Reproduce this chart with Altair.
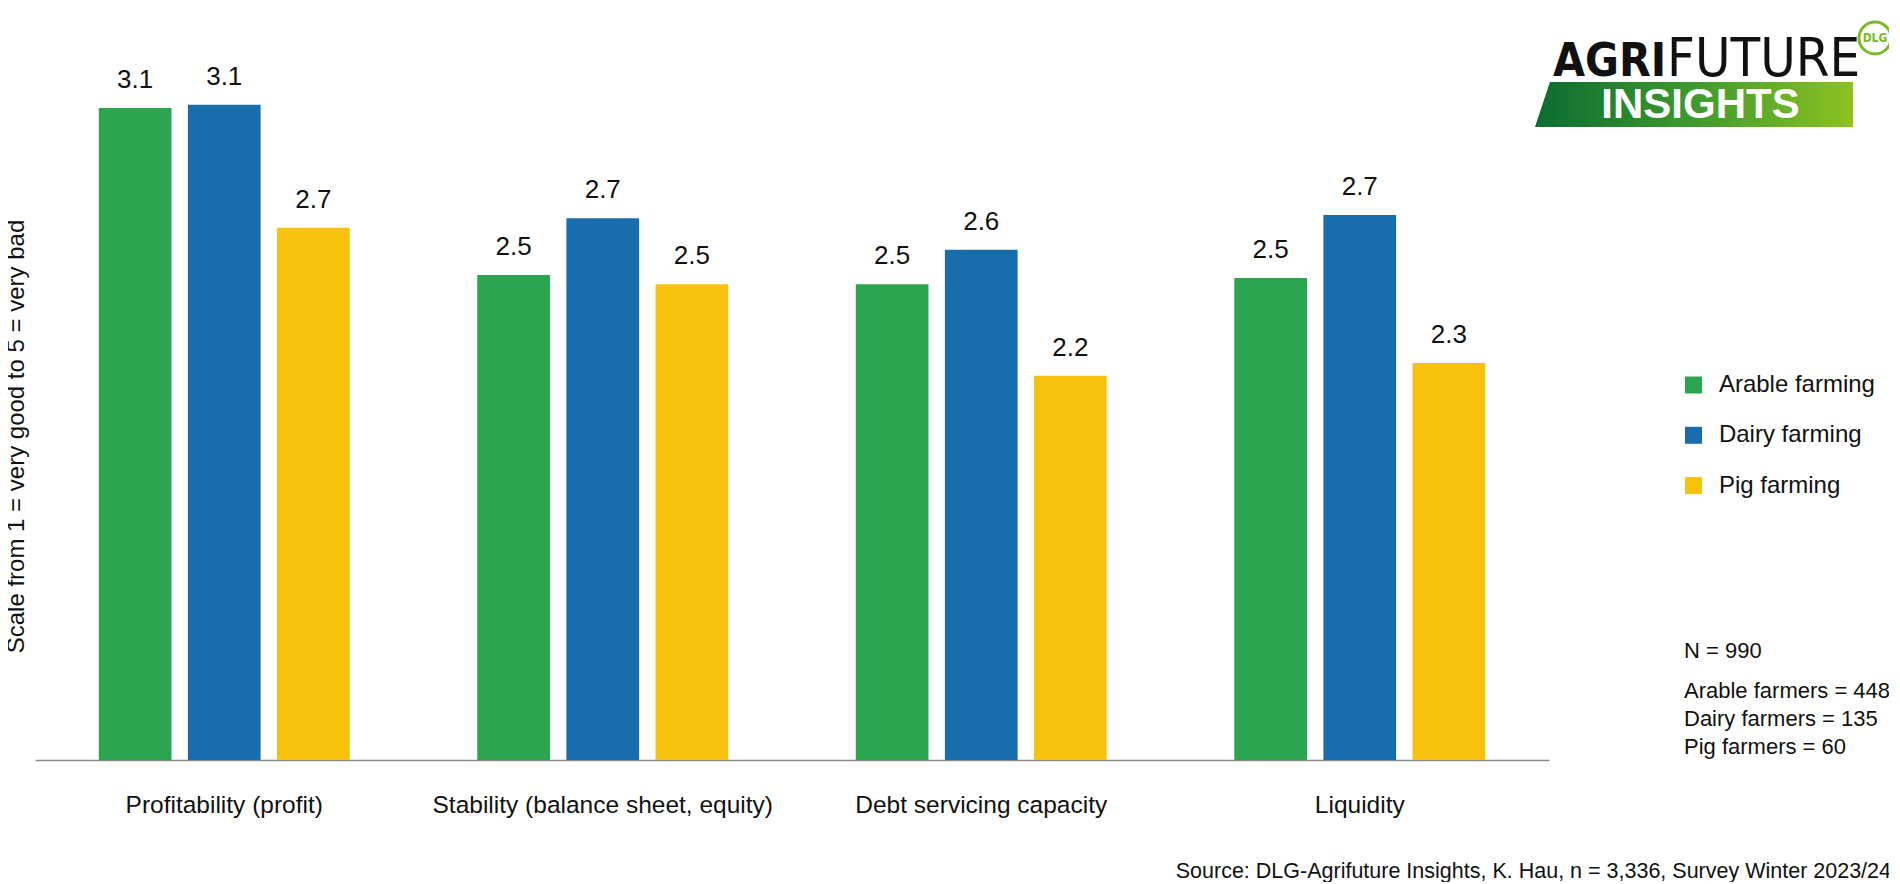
import altair as alt
import pandas as pd

# ---- data ----
categories = ["Profitability (profit)", "Stability (balance sheet, equity)",
              "Debt servicing capacity", "Liquidity"]
series = ["Arable farming", "Dairy farming", "Pig farming"]
arable = [3.07, 2.54, 2.51, 2.53]
dairy = [3.08, 2.72, 2.62, 2.73]
pig = [2.69, 2.51, 2.22, 2.26]
colors = ["#2CA551", "#196DAC", "#F8C20C"]
notes = ["N = 990", "Arable farmers = 448", "Dairy farmers = 135", "Pig farmers = 60"]
y_title = "Scale from 1 = very good to 5 = very bad"
source = "Source: DLG-Agrifuture Insights, K. Hau, n = 3,336, Survey Winter 2023/24"

rows = []
for s, vals in zip(series, [arable, dairy, pig]):
    for c, v in zip(categories, vals):
        rows.append({"category": c, "series": s, "value": v})
df = pd.DataFrame(rows)

FONT = "Liberation Sans"
COND = "DejaVu Sans Condensed, Liberation Sans, sans-serif"
W, H = 1514, 693

x = alt.X("category:N", sort=categories, title=None,
          scale=alt.Scale(paddingInner=0.337, paddingOuter=0.1685),
          axis=alt.Axis(labelAngle=0, labelFontSize=24.5, labelFont=FONT, labelColor="#111111",
                        labelBaseline="alphabetic", labelPadding=52, labelLimit=0,
                        ticks=False, tickSize=0,
                        domainColor="#8a8a8a", domainWidth=1.5, grid=False))
xo = alt.XOffset("series:N", sort=series, scale=alt.Scale(paddingInner=0.184, paddingOuter=0))
y = alt.Y("value:Q", scale=alt.Scale(domain=[1, 3.2], nice=False, zero=False),
          axis=alt.Axis(title=y_title, domain=False, ticks=False, labels=False, grid=False,
                        titleFont=FONT, titleFontSize=24, titleFontWeight="normal",
                        titleColor="#111111", titleX=-19, titleY=369, titleAngle=270,
                        titleBaseline="middle", titleAlign="center", titleLimit=0))
color = alt.Color("series:N", sort=series, scale=alt.Scale(domain=series, range=colors),
                  legend=alt.Legend(title=None, orient="none", legendX=1646.5, legendY=306,
                                    symbolType="square", symbolSize=289, symbolStrokeWidth=0,
                                    symbolOpacity=1, labelFont=FONT, labelFontSize=24,
                                    labelColor="#111111", labelOffset=13.4, rowPadding=26.3,
                                    labelLimit=0, padding=0))

bars = alt.Chart(df).mark_bar().encode(x=x, xOffset=xo, y=y, y2=alt.datum(1), color=color)
labels = alt.Chart(df).mark_text(font=FONT, fontSize=26, baseline="alphabetic", dy=-20,
                                 color="#111111").encode(
    x=x, xOffset=xo, y=y, text=alt.Text("value:Q", format=".1f"))

one = alt.Data(values=[{}])


def txt(s, xv, yv, **kw):
    return alt.Chart(one).mark_text(text=s, **kw).encode(x=alt.value(xv), y=alt.value(yv))


layers = [bars, labels]

# sample notes
for s, yy in zip(notes, [591, 631, 659, 687]):
    layers.append(txt(s, 1649, yy, font=FONT, fontSize=22, align="left",
                      baseline="alphabetic", color="#111111"))

# source
layers.append(txt(source, 1856, 811, font=FONT, fontSize=21.5, align="right",
                  baseline="alphabetic", color="#111111"))

# logo
grad = alt.Gradient(gradient="linear", x1=0, x2=1, y1=0, y2=0,
                    stops=[alt.GradientStop(color="#0B6B30", offset=0),
                           alt.GradientStop(color="#3E9A2E", offset=0.5),
                           alt.GradientStop(color="#8DC21F", offset=1)])
layers.append(alt.Chart(one).mark_point(
    shape="M -0.906 -0.1415 L 1 -0.1415 L 1 0.1415 L -1 0.1415 Z", size=318 ** 2,
    filled=True, fill=grad, opacity=1, strokeWidth=0).encode(x=alt.value(1659), y=alt.value(37.5)))
layers.append(txt("AGRI", 1518, 9, font=COND, fontSize=46, fontWeight="bold", align="left",
                  baseline="alphabetic", color="#111111"))
layers.append(txt("FUTURE", 1632, 9, font=COND, fontSize=54, fontWeight="normal", align="left",
                  baseline="alphabetic", color="#111111"))
layers.append(txt("INSIGHTS", 1665.5, 51, font=FONT, fontSize=42, fontWeight="bold",
                  align="center", baseline="alphabetic", color="#FFFFFF"))
layers.append(alt.Chart(one).mark_point(shape="circle", size=1024, filled=False, color="#7AB929",
                                        strokeWidth=3, opacity=1).encode(
    x=alt.value(1840), y=alt.value(-29)))
layers.append(txt("DLG", 1840, -29, font=COND, fontSize=12, fontWeight="bold", align="center",
                  baseline="middle", color="#7AB929"))

chart = alt.layer(*layers).properties(
    width=W, height=H,
    autosize=alt.AutoSizeParams(type="none"),
    padding={"left": 27, "top": 59, "right": 340, "bottom": 122},
).configure_view(stroke=None)

chart.save("out.html", embed_options={"renderer": "svg", "actions": False})
